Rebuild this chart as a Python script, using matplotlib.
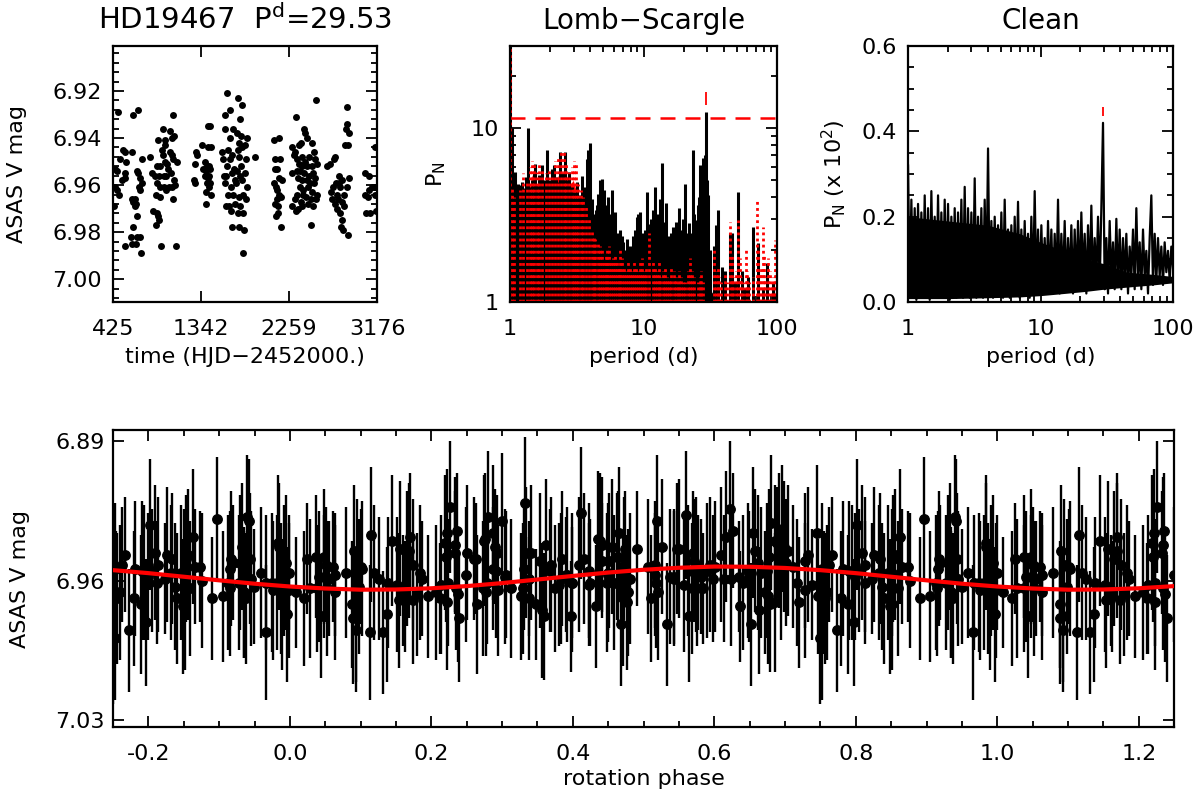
import numpy as np
import matplotlib.pyplot as plt
from matplotlib.ticker import MultipleLocator, FixedLocator, FormatStrFormatter, FuncFormatter, NullFormatter

plt.rcParams["font.family"] = "DejaVu Sans"
plt.rcParams["mathtext.fontset"] = "dejavusans"

star = "HD19467"
rot_period = 29.53
epoch = 425.0

# ASAS light curve, read season by season off the top-left panel
hjd = [481, 630, 689, 533, 550, 619, 498, 560, 446, 463, 554, 545, 515, 449, 467, 491, 435, 671, 685, 706,
       724, 699, 702, 728, 622, 654, 637, 667, 658, 674, 633, 616, 677, 710, 547, 625, 664, 713, 810,
       1054, 949, 1019, 1058, 1036, 897, 963, 970, 932, 945, 1023, 1040, 1050, 1088, 880, 915, 967, 984, 1001, 828,
       863, 901, 952, 980, 1061, 1033, 884, 911, 956, 1005, 1071, 1043, 876, 919, 973, 1047, 845, 888, 893, 908,
       872, 926, 1078,
       1418, 1436, 1349, 1414, 1443, 1290, 1304, 1279, 1383, 1401, 1422, 1432, 1366, 1397, 1429, 1269, 1283, 1387,
       1411, 1405, 1439, 1420, 1398, 1446, 1392,
       1616, 1731, 1766, 1592, 1644, 1748, 1596, 1679, 1713, 1762, 1640, 1735, 1557, 1627, 1661, 1727, 1770, 1575,
       1648, 1738, 1609, 1683, 1717, 1759, 1579, 1605, 1665, 1696, 1744, 1588, 1651, 1709, 1773, 1623, 1675, 1733,
       1783, 1599, 1631, 1692, 1752, 1657, 1724, 1779, 1668, 1741, 1786, 1776, 1804, 1821, 1808, 1800, 1817, 1811,
       1908,
       2099, 2158, 2116, 2168, 2110, 2134, 2151, 2186, 2103, 2120, 2130, 2155, 2138, 2172, 2113, 2144, 2148, 2127,
       2179,
       2540, 2335, 2412, 2429, 2446, 2290, 2325, 2360, 2387, 2499, 2307, 2342, 2394, 2464, 2516, 2533, 2551, 2364,
       2398, 2425, 2450, 2503, 2294, 2338, 2377, 2416, 2468, 2512, 2529, 2356, 2390, 2442, 2481, 2520, 2373, 2408,
       2460, 2495, 2547, 2346, 2401, 2433, 2485, 2321, 2381, 2453, 2506, 2286, 2349, 2397, 2537, 2329, 2492,
       2863, 2867, 2853, 2881, 2846, 2874, 2742, 2724, 2690, 2655, 2783, 2811, 2885, 2776, 2746, 2694, 2720, 2794,
       2759, 2828, 2859, 2707, 2772, 2815, 2738, 2832, 2763, 2790, 2807, 2798, 2824, 2870,
       3047, 3096, 3124, 3089, 3054, 3141, 3082, 3061, 3106, 3158, 3162, 3155, 3151]
vmag = [6.929, 6.930, 6.928, 6.945, 6.946, 6.946, 6.949, 6.950, 6.953, 6.954, 6.955, 6.957, 6.958, 6.961, 6.962,
        6.964, 6.969, 6.954, 6.955, 6.957, 6.959, 6.961, 6.962, 6.949, 6.966, 6.966, 6.967, 6.968, 6.969, 6.973,
        6.978, 6.982, 6.982, 6.982, 6.986, 6.985, 6.985, 6.989, 6.948,
        6.930, 6.936, 6.937, 6.939, 6.940, 6.941, 6.941, 6.943, 6.945, 6.947, 6.946, 6.947, 6.949, 6.950, 6.952,
        6.952, 6.950, 6.951, 6.953, 6.955, 6.956, 6.956, 6.956, 6.956, 6.958, 6.955, 6.959, 6.961, 6.961, 6.961,
        6.960, 6.961, 6.964, 6.965, 6.962, 6.966, 6.971, 6.972, 6.973, 6.975, 6.977, 6.986, 6.986,
        6.935, 6.935, 6.943, 6.944, 6.944, 6.946, 6.947, 6.951, 6.950, 6.952, 6.952, 6.953, 6.953, 6.954, 6.956,
        6.958, 6.959, 6.956, 6.957, 6.959, 6.959, 6.961, 6.963, 6.964, 6.968,
        6.921, 6.923, 6.926, 6.930, 6.928, 6.932, 6.936, 6.936, 6.938, 6.939, 6.940, 6.942, 6.946, 6.945, 6.947,
        6.945, 6.944, 6.949, 6.949, 6.948, 6.952, 6.953, 6.954, 6.952, 6.956, 6.956, 6.955, 6.958, 6.956, 6.959,
        6.961, 6.959, 6.958, 6.964, 6.964, 6.965, 6.964, 6.969, 6.969, 6.968, 6.969, 6.971, 6.972, 6.972, 6.978,
        6.978, 6.979, 6.989, 6.943, 6.940, 6.949, 6.955, 6.961, 6.966, 6.948,
        6.941, 6.940, 6.949, 6.949, 6.953, 6.953, 6.957, 6.958, 6.959, 6.961, 6.962, 6.964, 6.966, 6.965, 6.968,
        6.969, 6.972, 6.973, 6.978,
        6.924, 6.931, 6.936, 6.938, 6.940, 6.944, 6.946, 6.943, 6.942, 6.942, 6.947, 6.949, 6.948, 6.948, 6.946,
        6.949, 6.951, 6.951, 6.952, 6.950, 6.952, 6.952, 6.955, 6.954, 6.954, 6.955, 6.956, 6.955, 6.957, 6.957,
        6.958, 6.958, 6.959, 6.959, 6.961, 6.962, 6.961, 6.963, 6.964, 6.964, 6.964, 6.965, 6.966, 6.966, 6.967,
        6.968, 6.969, 6.969, 6.970, 6.969, 6.966, 6.971, 6.977,
        6.927, 6.934, 6.936, 6.938, 6.943, 6.943, 6.948, 6.949, 6.951, 6.952, 6.956, 6.958, 6.957, 6.959, 6.959,
        6.963, 6.961, 6.961, 6.964, 6.964, 6.961, 6.966, 6.966, 6.967, 6.968, 6.969, 6.970, 6.972, 6.975, 6.978,
        6.979, 6.981,
        6.955, 6.956, 6.961, 6.962, 6.964, 6.961, 6.965, 6.972, 6.972, 6.944, 6.971, 6.961, 6.964]

# typical photometric error per observing season
season_start = [425, 820, 1260, 1550, 2090, 2280, 2650, 3040]
season_err = [0.031, 0.034, 0.029, 0.033, 0.028, 0.034, 0.032, 0.035]

# Lomb-Scargle: main peaks (black) and spectral window peaks (red dotted)
ls_period = [1.00, 1.02, 1.04, 1.06, 1.09, 1.12, 1.15, 1.17, 1.20, 1.23, 1.27, 1.31, 1.36, 1.40, 1.45, 1.50,
             1.55, 1.60, 1.66, 1.73, 1.80, 1.90, 1.97, 2.05, 2.14, 2.22, 2.30, 2.37, 2.45, 2.58, 2.66, 2.78,
             2.90, 3.05, 3.20, 3.35, 3.45, 3.60, 3.75, 3.86, 3.97, 4.09, 4.25, 4.40, 4.60, 4.73, 4.86, 5.05,
             5.25, 5.45, 5.78, 6.10, 6.40, 6.66, 7.05, 7.50, 7.90, 8.40, 8.90, 9.40, 9.90, 10.7, 11.4, 12.2,
             12.9, 13.7, 14.7, 15.5, 16.5, 17.4, 18.3, 19.3, 20.4, 21.2, 22.0, 23.3, 24.6, 25.5, 26.5, 27.7,
             28.6, 29.5, 30.3, 31.5, 33.7, 34.9, 36.3, 38.5, 41.0, 44.1, 46.0, 48.5, 51.4, 55.0, 58.0, 61.0,
             66.5, 72.4, 78.0, 84.2, 92.6, 98.0,
             4.15, 4.50, 5.15, 5.60, 6.25, 6.85, 7.30, 8.15, 8.65, 9.15, 9.65, 10.3, 11.0, 11.8, 12.5, 13.3,
             14.2, 15.0, 16.0, 17.0, 17.8, 18.8, 19.8, 21.6, 22.6, 24.0, 25.0, 26.0, 27.2, 28.2, 29.0, 29.9]
ls_power = [30.0, 6.0, 10.0, 5.0, 5.6, 4.2, 4.8, 4.7, 4.3, 4.9, 4.5, 5.2, 10.0, 4.6, 5.0, 5.5,
            6.2, 4.8, 5.4, 6.1, 5.0, 7.5, 5.0, 5.8, 6.1, 5.2, 4.9, 7.3, 5.5, 7.3, 5.0, 5.6,
            4.6, 4.3, 4.9, 4.1, 5.3, 4.6, 6.6, 7.5, 8.2, 3.9, 3.0, 3.4, 4.2, 5.0, 5.1, 4.4,
            3.6, 4.0, 4.4, 3.3, 2.5, 2.6, 2.2, 2.3, 2.1, 2.4, 3.1, 3.3, 2.5, 4.3, 3.0, 4.6,
            3.2, 6.3, 3.7, 2.4, 2.7, 2.9, 3.45, 2.6, 4.8, 2.5, 2.83, 7.5, 2.96, 3.6, 6.1, 6.7,
            5.5, 12.3, 4.1, 2.0, 2.1, 2.77, 3.4, 1.6, 1.5, 2.5, 2.5, 1.3, 4.3, 1.5, 1.2, 1.4,
            2.7, 2.17, 1.2, 1.67, 1.28, 1.1,
            3.2, 3.6, 3.0, 3.2, 2.2, 2.4, 2.0, 1.9, 2.6, 3.2, 2.2, 2.6, 2.8, 3.4, 2.7, 3.9,
            2.9, 2.2, 2.5, 2.2, 2.7, 2.3, 3.0, 2.1, 2.5, 3.2, 2.8, 4.0, 5.0, 6.3, 7.0, 5.0]
ls_base_period = [1.0, 3.5, 3.8, 4.5, 5.5, 6.5, 8.0, 10.0, 13.0, 16.0, 20.0, 25.0, 29.0, 31.0, 35.0, 45.0, 100.0]
ls_base_power = [1.0, 1.0, 2.4, 2.6, 2.2, 1.7, 1.6, 1.8, 1.9, 1.7, 1.9, 2.0, 2.4, 1.2, 1.05, 1.0, 1.0]

win_core_period = [1.0, 1.02, 1.06, 1.12, 1.19, 1.26, 1.33, 1.40, 1.45, 1.50, 1.54, 1.60, 1.68, 1.75, 1.83,
                   1.91, 1.99, 2.08, 2.17, 2.27, 2.37, 2.47, 2.58, 2.73, 2.85, 2.98, 3.12, 3.25, 3.40, 3.54,
                   3.75, 4.0, 4.3, 4.6]
win_core_power = [4.0, 4.4, 3.4, 3.2, 3.6, 3.9, 4.2, 4.6, 5.2, 5.6, 5.0, 4.4, 4.8, 4.3, 4.6,
                  4.1, 4.4, 4.8, 4.6, 5.2, 5.6, 5.2, 5.0, 5.4, 4.8, 5.0, 4.4, 3.6, 3.4, 3.0,
                  2.6, 2.2, 1.8, 1.4]
win_period = [1.00, 1.03, 1.08, 1.19, 1.26, 1.33, 1.41, 1.47, 1.52, 1.58, 1.66, 1.75, 1.85, 1.96, 2.05,
              2.17, 2.30, 2.40, 2.52, 2.63, 2.75, 2.90, 3.00, 3.10, 3.25, 3.40, 3.55, 3.70, 3.90, 4.10,
              4.35, 4.60, 4.90, 5.20, 5.50, 5.90, 6.30, 6.70, 7.20, 7.70, 8.20, 8.80, 9.40, 10.0, 11.0,
              11.8, 12.6, 13.4, 14.5, 15.6, 16.8, 18.0, 19.2, 20.5, 22.3, 24.0, 25.5, 27.0, 33.8, 36.0,
              38.0, 40.5, 44.5, 47.0, 51.4, 54.0, 58.5, 62.0, 70.6, 74.0, 78.3, 82.0, 86.0, 91.0, 96.5, 99.0,
              4.25, 4.75, 5.05, 5.35, 5.70, 6.10, 6.50, 6.90, 7.45, 7.95, 8.50, 9.10, 9.70, 10.4, 12.2, 13.0,
              13.9, 15.0, 16.2, 17.4, 18.6, 19.8, 21.4, 23.2, 26.3, 28.0, 35.0, 37.0, 42.0, 45.8, 49.0, 52.7,
              56.0, 60.0, 66.0, 72.0, 76.0, 80.5, 88.5, 93.5]
win_power = [30.0, 4.6, 4.0, 4.4, 5.5, 5.0, 6.0, 6.5, 6.2, 5.6, 6.4, 5.8, 5.5, 5.9, 5.4,
             6.5, 6.9, 7.4, 7.3, 6.3, 5.6, 6.0, 6.5, 6.4, 4.8, 4.4, 4.0, 3.6, 3.0, 2.6,
             2.3, 2.2, 2.0, 1.9, 2.1, 1.8, 1.7, 2.0, 1.6, 1.7, 1.5, 1.6, 1.7, 1.5, 2.48,
             1.7, 1.5, 1.4, 1.6, 1.35, 1.5, 1.3, 1.4, 1.3, 1.79, 1.4, 1.3, 1.5, 1.99, 1.6,
             1.3, 1.45, 2.89, 1.4, 2.96, 1.4, 2.08, 1.3, 3.85, 1.5, 2.7, 1.4, 1.8, 1.3, 2.27, 1.6,
             2.4, 2.1, 1.7, 2.0, 1.7, 1.9, 1.6, 1.8, 1.5, 1.6, 1.7, 1.5, 1.8, 1.6, 1.6, 1.7,
             1.5, 1.4, 1.6, 1.4, 1.5, 1.3, 1.5, 1.5, 1.4, 1.3, 1.5, 1.4, 1.3, 1.9, 1.5, 1.8,
             1.3, 1.5, 1.4, 2.0, 1.6, 1.9, 1.5, 1.4]
fap_level = 11.4

# CLEAN periodogram, sampled on a log period grid from 1 to 100 d
clean_power = [0.32, 0.01, 0.24, 0.02, 0.22, 0.005, 0.23, 0.02, 0.21, 0.01,
               0.25, 0.02, 0.22, 0.005, 0.26, 0.03, 0.20, 0.01, 0.25, 0.02,
               0.21, 0.01, 0.24, 0.02, 0.23, 0.005, 0.20, 0.02, 0.22, 0.01,
               0.21, 0.02, 0.24, 0.01, 0.27, 0.02, 0.22, 0.01, 0.21, 0.02,
               0.29, 0.01, 0.20, 0.03, 0.22, 0.01, 0.24, 0.02, 0.36, 0.02,
               0.19, 0.01, 0.20, 0.03, 0.18, 0.02, 0.21, 0.01, 0.24, 0.03,
               0.17, 0.01, 0.18, 0.02, 0.20, 0.03, 0.235, 0.01, 0.17, 0.02,
               0.19, 0.03, 0.16, 0.01, 0.20, 0.02, 0.26, 0.03, 0.17, 0.02,
               0.18, 0.03, 0.15, 0.02, 0.19, 0.04, 0.17, 0.02, 0.16, 0.03,
               0.24, 0.02, 0.16, 0.04, 0.19, 0.03, 0.15, 0.05, 0.18, 0.02,
               0.17, 0.04, 0.19, 0.03, 0.21, 0.05, 0.16, 0.02, 0.18, 0.04,
               0.226, 0.03, 0.15, 0.05, 0.20, 0.04, 0.22, 0.42, 0.03, 0.15,
               0.02, 0.19, 0.05, 0.14, 0.03, 0.195, 0.04, 0.17, 0.03, 0.15,
               0.05, 0.16, 0.02, 0.13, 0.06, 0.17, 0.03, 0.22, 0.05, 0.14,
               0.03, 0.17, 0.06, 0.12, 0.02, 0.15, 0.25, 0.04, 0.16, 0.05,
               0.15, 0.06, 0.13, 0.04, 0.14, 0.07, 0.12, 0.05, 0.13, 0.08]
clean_band_period = [1.0, 2.0, 4.0, 7.0, 10.0, 15.0, 22.0, 30.0, 45.0, 70.0, 100.0]
clean_band_lo = [0.008, 0.008, 0.01, 0.012, 0.015, 0.02, 0.025, 0.03, 0.035, 0.04, 0.045]
clean_band_hi = [0.20, 0.19, 0.18, 0.16, 0.14, 0.12, 0.10, 0.09, 0.07, 0.065, 0.06]

# sinusoidal fit shown on the phased light curve
fit_phase = [-0.25, -0.20, -0.15, -0.10, -0.05, 0.00, 0.05, 0.10, 0.15, 0.20, 0.25, 0.30, 0.35, 0.40, 0.45,
             0.50, 0.55, 0.60, 0.65, 0.70, 0.75, 0.80, 0.85, 0.90, 0.95, 1.00, 1.05, 1.10, 1.15, 1.20, 1.25]
fit_mag = [6.9548, 6.9563, 6.9581, 6.9599, 6.9616, 6.9630, 6.9640, 6.9646, 6.9645, 6.9639, 6.9628, 6.9613,
           6.9595, 6.9577, 6.9560, 6.9546, 6.9536, 6.9530, 6.9531, 6.9537, 6.9548, 6.9563, 6.9581, 6.9599,
           6.9616, 6.9630, 6.9640, 6.9646, 6.9645, 6.9639, 6.9628]

FS = 16


def idl_ticks(ax):
    ax.tick_params(which="both", direction="in", top=True, right=True, labelsize=FS, width=1.3)
    ax.tick_params(which="major", length=8)
    ax.tick_params(which="minor", length=4)
    for s in ax.spines.values():
        s.set_linewidth(1.6)


def log_period_axis(ax):
    ax.set_xscale("log")
    ax.set_xlim(1, 100)
    ax.xaxis.set_major_locator(FixedLocator([1, 10, 100]))
    ax.xaxis.set_major_formatter(FuncFormatter(lambda v, p: "%g" % v))
    ax.xaxis.set_minor_locator(FixedLocator([k * d for d in (1, 10) for k in range(2, 10)]))
    ax.xaxis.set_minor_formatter(NullFormatter())
    ax.set_xlabel("period (d)", fontsize=FS, labelpad=6)


fig = plt.figure(figsize=(12, 8.08), dpi=100)
ax1 = fig.add_axes([0.0942, 0.6262, 0.22, 0.3168])
ax2 = fig.add_axes([0.425, 0.6262, 0.2225, 0.3168])
ax3 = fig.add_axes([0.7567, 0.6262, 0.2208, 0.3168])
ax4 = fig.add_axes([0.0942, 0.1002, 0.8842, 0.3676])

# light curve
ax1.plot(hjd, vmag, "o", color="k", ms=5, mec="none")
ax1.set_xlim(425, 3176)
ax1.set_ylim(7.0097, 6.9009)
ax1.set_xticks([425, 1342, 2259, 3176])
ax1.yaxis.set_major_locator(FixedLocator([6.92, 6.94, 6.96, 6.98, 7.00]))
ax1.yaxis.set_major_formatter(FormatStrFormatter("%.2f"))
ax1.yaxis.set_minor_locator(MultipleLocator(0.004))
idl_ticks(ax1)
ax1.tick_params(axis="x", pad=12)
ax1.tick_params(axis="y", pad=8)
ax1.set_xlabel("time (HJD\u22122452000.)", fontsize=FS, labelpad=6)
ax1.set_ylabel("ASAS V mag", fontsize=FS, labelpad=18)
ax1.set_title(star + "  P$^{\\mathrm{d}}$=%.2f" % rot_period, fontsize=21, pad=12)

# Lomb-Scargle
ax2.set_yscale("log")
ax2.fill_between(ls_base_period, 1, ls_base_power, color="k", lw=0)
ax2.vlines(ls_period, 1, ls_power, colors="k", lw=2.2)
ax2.fill_between(win_core_period, 1, win_core_power, color="red", lw=0)
ax2.vlines(win_period, 1, win_power, colors="red", lw=2, linestyles=(0, (1, 1.2)))
ax2.axhline(fap_level, color="red", lw=1.8, ls=(0, (6, 4)))
ax2.vlines([rot_period], 13.6, 16.1, colors="red", lw=1.3)
log_period_axis(ax2)
ax2.set_ylim(1, 29.6)
ax2.yaxis.set_major_locator(FixedLocator([1, 10]))
ax2.yaxis.set_major_formatter(FuncFormatter(lambda v, p: "%g" % v))
ax2.yaxis.set_minor_locator(FixedLocator([2, 3, 4, 5, 6, 7, 8, 9, 20]))
ax2.yaxis.set_minor_formatter(NullFormatter())
idl_ticks(ax2)
ax2.tick_params(axis="x", pad=12)
ax2.tick_params(axis="y", pad=8)
ax2.set_ylabel("P$_\\mathrm{N}$", fontsize=FS, labelpad=16)
ax2.set_title("Lomb\u2212Scargle", fontsize=20, pad=12)

# CLEAN
clean_period = np.geomspace(1, 100, len(clean_power))
ax3.fill_between(clean_band_period, clean_band_lo, clean_band_hi, color="k", lw=0)
ax3.plot(clean_period, clean_power, color="k", lw=1.6)
ax3.vlines([rot_period], 0.437, 0.456, colors="red", lw=1.3)
log_period_axis(ax3)
ax3.set_ylim(0, 0.6)
ax3.yaxis.set_major_locator(MultipleLocator(0.2))
ax3.yaxis.set_major_formatter(FormatStrFormatter("%.1f"))
ax3.yaxis.set_minor_locator(MultipleLocator(0.05))
idl_ticks(ax3)
ax3.tick_params(axis="x", pad=12)
ax3.tick_params(axis="y", pad=8)
ax3.set_ylabel("P$_\\mathrm{N}$ (x 10$^2$)", fontsize=FS, labelpad=10)
ax3.set_title("Clean", fontsize=20, pad=12)

# phased light curve, repeated beyond [0, 1)
t = np.array(hjd, dtype=float)
m = np.array(vmag)
err = np.array(season_err)[np.searchsorted(season_start, t, side="right") - 1]
ph = ((t - epoch) / rot_period) % 1.0
lo = ph >= 0.75
hi = ph <= 0.25
ph_all = np.concatenate([ph[lo] - 1, ph, ph[hi] + 1])
m_all = np.concatenate([m[lo], m, m[hi]])
e_all = np.concatenate([err[lo], err, err[hi]])
ax4.errorbar(ph_all, m_all, yerr=e_all, fmt="o", color="k", ms=6.8, elinewidth=1.7, capsize=0, zorder=2)
ax4.plot(fit_phase, fit_mag, color="red", lw=3, zorder=5)
ax4.set_xlim(-0.25, 1.25)
ax4.set_ylim(7.0335, 6.8845)
ax4.xaxis.set_major_locator(MultipleLocator(0.2))
ax4.xaxis.set_major_formatter(FormatStrFormatter("%.1f"))
ax4.xaxis.set_minor_locator(MultipleLocator(0.05))
ax4.yaxis.set_major_locator(FixedLocator([6.89, 6.96, 7.03]))
ax4.yaxis.set_major_formatter(FormatStrFormatter("%.2f"))
idl_ticks(ax4)
ax4.tick_params(axis="x", pad=12)
ax4.tick_params(axis="y", pad=6)
ax4.set_xlabel("rotation phase", fontsize=FS, labelpad=4)
ax4.set_ylabel("ASAS V mag", fontsize=FS, labelpad=18)

fig.savefig("out.png", dpi=100)
